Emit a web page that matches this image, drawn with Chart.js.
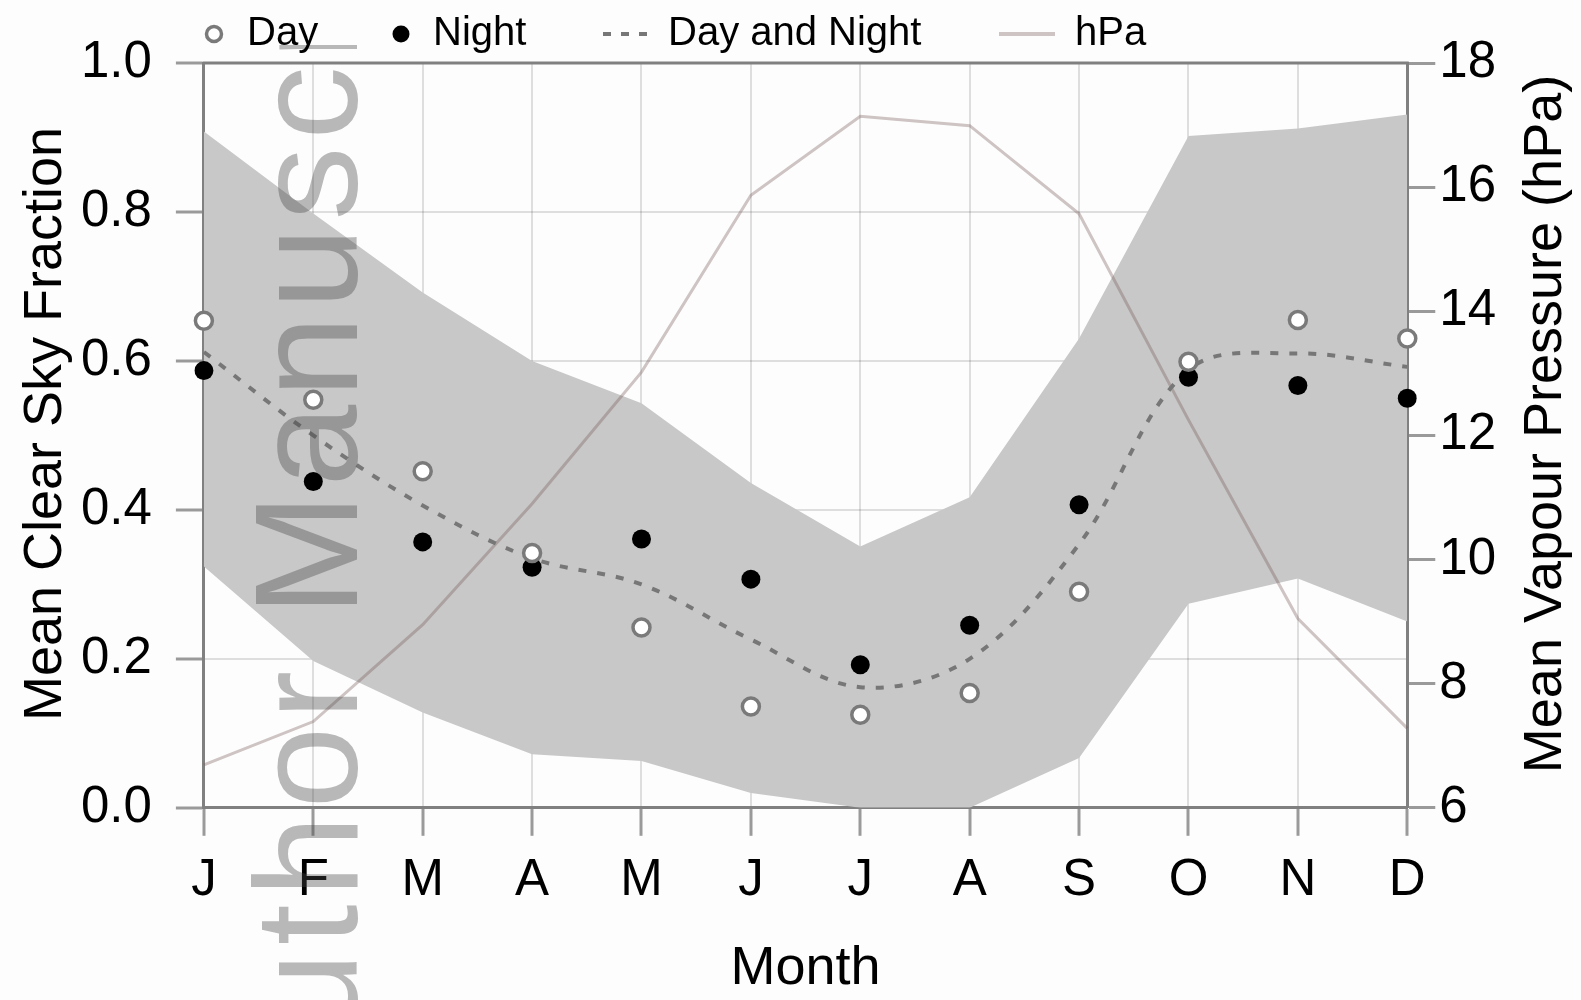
<!DOCTYPE html>
<html>
<head>
<meta charset="utf-8">
<title>Mean Clear Sky Fraction</title>
<script src="https://cdn.jsdelivr.net/npm/chart.js@4.4.1/dist/chart.umd.min.js"></script>
<style>
  html, body { margin: 0; padding: 0; background: #fdfdfd; }
  #wrap { width: 1581px; height: 1000px; position: relative; }
</style>
</head>
<body>
<div id="wrap"><canvas id="skyChart"></canvas></div>
<script>
// monthly values
const months = ['J', 'F', 'M', 'A', 'M', 'J', 'J', 'A', 'S', 'O', 'N', 'D'];
const dayFrac = [0.654, 0.548, 0.452, 0.342, 0.242, 0.136, 0.125, 0.154, 0.290, 0.599, 0.655, 0.630];
const nightFrac = [0.587, 0.438, 0.357, 0.323, 0.361, 0.307, 0.192, 0.245, 0.407, 0.578, 0.567, 0.550];
const bothFrac = [0.612, 0.500, 0.406, 0.335, 0.300, 0.226, 0.162, 0.200, 0.354, 0.588, 0.610, 0.592];
const bandUpper = [0.908, 0.798, 0.692, 0.600, 0.543, 0.436, 0.351, 0.417, 0.630, 0.902, 0.912, 0.931];
const bandLower = [0.324, 0.197, 0.128, 0.072, 0.063, 0.020, 0.000, 0.000, 0.067, 0.274, 0.308, 0.250];
const vapourHpa = [6.69, 7.39, 8.95, 10.90, 13.02, 15.87, 17.14, 16.99, 15.57, 12.25, 9.05, 7.28];

const FONT = '"Liberation Sans", Arial, Helvetica, sans-serif';
const FRAME = '#808080';
const HPA_COLOR = 'rgba(120, 90, 90, 0.35)';

// page background
const bgPlugin = {
    id: 'bg',
    beforeDraw(chart) {
        const ctx = chart.ctx;
        ctx.save();
        ctx.fillStyle = '#fdfdfd';
        ctx.fillRect(0, 0, chart.width, chart.height);
        ctx.restore();
    }
};

// faint "Author Manuscript" stamp running up the left of the plot
const stampPlugin = {
    id: 'stamp',
    afterDatasetsDraw(chart) {
        const ctx = chart.ctx;
        ctx.save();
        ctx.beginPath();
        ctx.rect(0, 45, chart.width, chart.height - 45);
        ctx.clip();
        ctx.translate(357, 616);
        ctx.rotate(-Math.PI / 2);
        ctx.font = '147px ' + FONT;
        ctx.letterSpacing = '7px';
        ctx.fillStyle = 'rgba(70, 70, 70, 0.38)';
        ctx.textBaseline = 'alphabetic';
        ctx.textAlign = 'right';
        ctx.fillText('Author ', 0, 0);
        ctx.textAlign = 'left';
        ctx.fillText('Manuscript', 0, 0);
        ctx.restore();
    }
};

// frame top edge, axis titles and the legend row
const decorPlugin = {
    id: 'decor',
    afterDraw(chart) {
        const ctx = chart.ctx;
        const area = chart.chartArea;
        const ds = chart.data.datasets;
        ctx.save();

        // top edge of the box
        ctx.strokeStyle = FRAME;
        ctx.lineWidth = 3;
        ctx.beginPath();
        ctx.moveTo(area.left - 1.5, area.top);
        ctx.lineTo(area.right + 1.5, area.top);
        ctx.stroke();

        // axis titles
        ctx.fillStyle = '#000';
        ctx.font = '54px ' + FONT;
        ctx.textAlign = 'center';
        ctx.textBaseline = 'middle';
        ctx.fillText('Month', (area.left + area.right) / 2, 969);

        ctx.save();
        ctx.translate(46, 424);
        ctx.rotate(-Math.PI / 2);
        ctx.fillText('Mean Clear Sky Fraction', 0, 0);
        ctx.restore();

        ctx.save();
        ctx.translate(1546, 424);
        ctx.rotate(-Math.PI / 2);
        ctx.fillText('Mean Vapour Pressure (hPa)', 0, 0);
        ctx.restore();

        // legend
        const y = 34;
        ctx.font = '40px ' + FONT;
        ctx.textAlign = 'left';
        ctx.textBaseline = 'middle';

        ctx.beginPath();
        ctx.arc(214, y, 7.5, 0, Math.PI * 2);
        ctx.fillStyle = '#fff';
        ctx.fill();
        ctx.strokeStyle = '#7a7a7a';
        ctx.lineWidth = 3.5;
        ctx.stroke();
        ctx.fillStyle = '#000';
        ctx.fillText(ds[0].label, 247, y);

        ctx.beginPath();
        ctx.arc(401, y, 8.5, 0, Math.PI * 2);
        ctx.fillStyle = '#000';
        ctx.fill();
        ctx.fillText(ds[1].label, 433, y);

        ctx.strokeStyle = '#777';
        ctx.lineWidth = 4;
        ctx.setLineDash([8, 10]);
        ctx.beginPath();
        ctx.moveTo(603, y);
        ctx.lineTo(655, y);
        ctx.stroke();
        ctx.setLineDash([]);
        ctx.fillText(ds[2].label, 668, y);

        ctx.strokeStyle = HPA_COLOR;
        ctx.lineWidth = 4;
        ctx.beginPath();
        ctx.moveTo(999, y);
        ctx.lineTo(1055, y);
        ctx.stroke();
        ctx.fillText(ds[3].label, 1075, y);

        ctx.restore();
    }
};

const ctx = document.getElementById('skyChart').getContext('2d');
new Chart(ctx, {
    type: 'line',
    data: {
        labels: months,
        datasets: [
            {
                label: 'Day',
                data: dayFrac,
                yAxisID: 'y',
                showLine: false,
                pointRadius: 8.5,
                pointBorderWidth: 3.5,
                pointBackgroundColor: '#ffffff',
                pointBorderColor: '#7a7a7a',
                order: 0
            },
            {
                label: 'Night',
                data: nightFrac,
                yAxisID: 'y',
                showLine: false,
                pointRadius: 9.5,
                pointBorderWidth: 0,
                pointBackgroundColor: '#000000',
                order: 1
            },
            {
                label: 'Day and Night',
                data: bothFrac,
                yAxisID: 'y',
                borderColor: '#777777',
                borderWidth: 4,
                borderDash: [8, 11],
                tension: 0.35,
                pointRadius: 0,
                fill: false,
                order: 2
            },
            {
                label: 'hPa',
                data: vapourHpa,
                yAxisID: 'y1',
                borderColor: HPA_COLOR,
                borderWidth: 3,
                tension: 0,
                pointRadius: 0,
                fill: false,
                order: 3
            },
            {
                label: 'upper',
                data: bandUpper,
                yAxisID: 'y',
                borderWidth: 0,
                borderColor: 'rgba(0,0,0,0)',
                backgroundColor: '#c8c8c8',
                pointRadius: 0,
                tension: 0,
                fill: '+1',
                order: 4
            },
            {
                label: 'lower',
                data: bandLower,
                yAxisID: 'y',
                borderWidth: 0,
                borderColor: 'rgba(0,0,0,0)',
                pointRadius: 0,
                tension: 0,
                fill: false,
                order: 5
            }
        ]
    },
    options: {
        responsive: true,
        maintainAspectRatio: false,
        animation: false,
        layout: {
            padding: { left: 57, right: 81, top: 63, bottom: 73 }
        },
        plugins: {
            legend: { display: false },
            tooltip: { enabled: false }
        },
        scales: {
            x: {
                z: 1,
                offset: false,
                grid: {
                    color: 'rgba(0,0,0,0.12)',
                    lineWidth: 2,
                    tickColor: '#9a9a9a',
                    tickLength: 28,
                    tickWidth: 3
                },
                border: { color: FRAME, width: 3 },
                ticks: {
                    color: '#000',
                    padding: 15,
                    maxRotation: 0,
                    autoSkip: false,
                    font: { family: FONT, size: 51 }
                }
            },
            y: {
                z: 1,
                position: 'left',
                min: 0,
                max: 1,
                grid: {
                    color: 'rgba(0,0,0,0.12)',
                    lineWidth: 2,
                    tickColor: '#9a9a9a',
                    tickLength: 28,
                    tickWidth: 3
                },
                border: { color: FRAME, width: 3 },
                ticks: {
                    stepSize: 0.2,
                    color: '#000',
                    padding: 24,
                    font: { family: FONT, size: 51 },
                    callback: v => v.toFixed(1)
                }
            },
            y1: {
                z: 1,
                position: 'right',
                min: 6,
                max: 18,
                grid: {
                    drawOnChartArea: false,
                    tickColor: '#9a9a9a',
                    tickLength: 28,
                    tickWidth: 3
                },
                border: { color: FRAME, width: 3 },
                ticks: {
                    stepSize: 2,
                    color: '#000',
                    padding: 4,
                    font: { family: FONT, size: 51 }
                }
            }
        }
    },
    plugins: [bgPlugin, stampPlugin, decorPlugin]
});
</script>
</body>
</html>
